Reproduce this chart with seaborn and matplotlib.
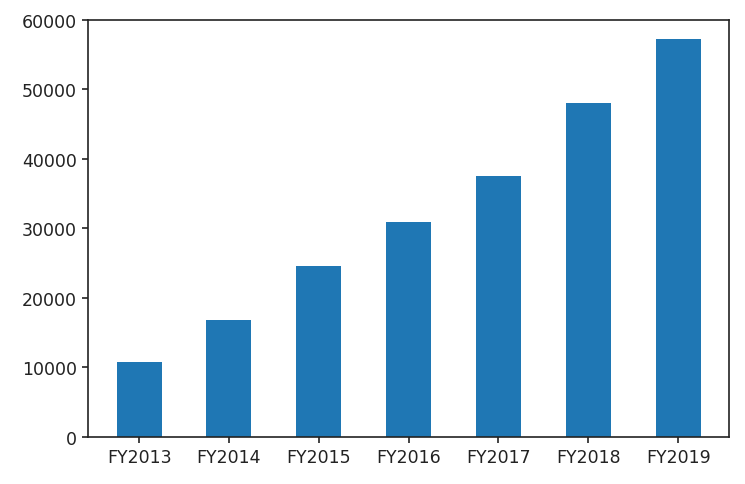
import matplotlib
matplotlib.use("Agg")
import matplotlib.pyplot as plt
import seaborn as sns
import pandas as pd

# values
years = ["FY2013", "FY2014", "FY2015", "FY2016", "FY2017", "FY2018", "FY2019"]
values = [10800, 16800, 24600, 30900, 37500, 48000, 57200]

df = pd.DataFrame({"year": years, "value": values})

sns.set_style("ticks")
plt.rcParams["font.family"] = ["DejaVu Sans"]

fig = plt.figure(figsize=(7.45, 4.85), dpi=100)
ax = fig.add_axes([0.118, 0.097, 0.861, 0.860])

sns.barplot(data=df, x="year", y="value", color="#1f77b4", saturation=1,
            width=0.5, linewidth=0, ax=ax)

ax.set_xlim(-0.57, 6.57)
ax.set_ylim(0, 60000)
ax.set_xlabel("")
ax.set_ylabel("")
ax.tick_params(labelsize=12.5, length=4, width=1.2, colors="#222222", pad=4)
for s in ax.spines.values():
    s.set_visible(True)
    s.set_color("#222222")
    s.set_linewidth(1.2)

fig.savefig("out.png", dpi=100)
